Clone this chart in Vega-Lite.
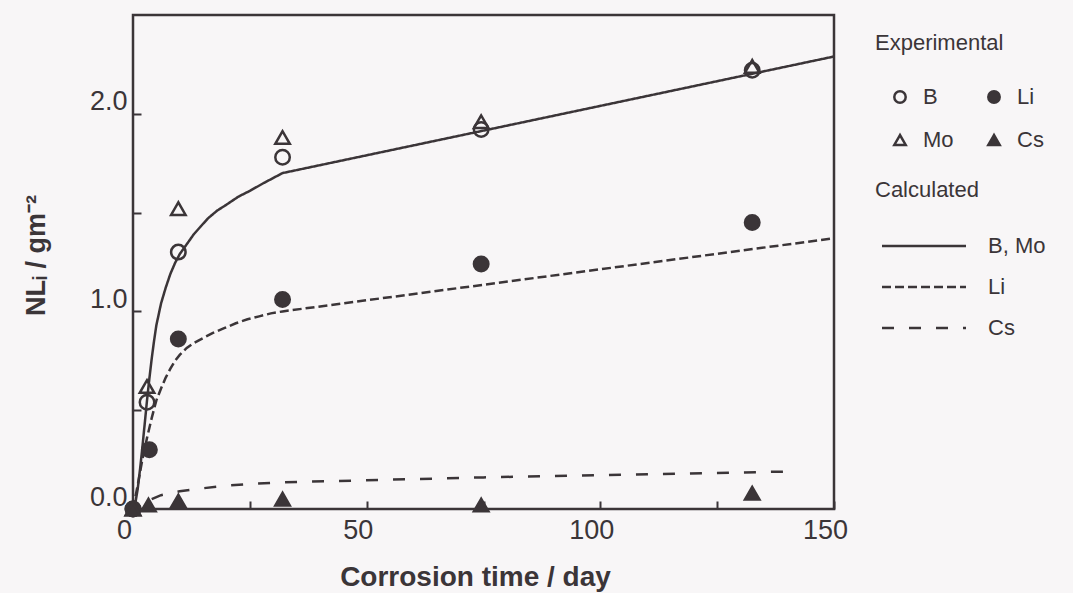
{
  "$schema": "https://vega.github.io/schema/vega-lite/v6.json",
  "background": "#f8f6f7",
  "padding": {"left": 20, "top": 13, "right": 0, "bottom": 0},
  "bounds": "flush",
  "spacing": 14,
  "config": {
    "view": {"stroke": "#3b3538", "strokeWidth": 2.5},
    "font": "Liberation Sans",
    "axis": {
      "domain": false,
      "grid": false,
      "tickColor": "#3b3538",
      "tickWidth": 2,
      "labelColor": "#3b3538",
      "titleColor": "#3b3538",
      "labelFont": "Liberation Sans",
      "titleFont": "Liberation Sans"
    },
    "legend": {
      "titleFontSize": 22,
      "titleFontWeight": "normal",
      "titleColor": "#3b3538",
      "labelFontSize": 22,
      "labelColor": "#3b3538",
      "labelBaseline": "middle",
      "padding": 0,
      "titleLimit": 300,
      "labelLimit": 200
    }
  },
  "datasets": {
    "exp": [
      {"t": 0, "v": 0, "el": "B"},
      {"t": 3, "v": 0.54, "el": "B"},
      {"t": 9.7, "v": 1.3, "el": "B"},
      {"t": 32, "v": 1.78, "el": "B"},
      {"t": 74.5, "v": 1.92, "el": "B"},
      {"t": 132.5, "v": 2.22, "el": "B"},
      {"t": 0, "v": 0, "el": "Mo"},
      {"t": 3, "v": 0.62, "el": "Mo"},
      {"t": 9.7, "v": 1.52, "el": "Mo"},
      {"t": 32, "v": 1.88, "el": "Mo"},
      {"t": 74.5, "v": 1.96, "el": "Mo"},
      {"t": 132.5, "v": 2.24, "el": "Mo"},
      {"t": 0, "v": 0, "el": "Li"},
      {"t": 3.5, "v": 0.3, "el": "Li"},
      {"t": 9.7, "v": 0.86, "el": "Li"},
      {"t": 32, "v": 1.06, "el": "Li"},
      {"t": 74.5, "v": 1.24, "el": "Li"},
      {"t": 132.5, "v": 1.45, "el": "Li"},
      {"t": 0, "v": 0, "el": "Cs"},
      {"t": 3.3, "v": 0.02, "el": "Cs"},
      {"t": 9.7, "v": 0.04, "el": "Cs"},
      {"t": 32, "v": 0.05, "el": "Cs"},
      {"t": 74.5, "v": 0.02, "el": "Cs"},
      {"t": 132.5, "v": 0.08, "el": "Cs"}
    ],
    "calc": [
      {"t": 0, "v": 0, "curve": "B, Mo"},
      {"t": 0.5, "v": 0.03, "curve": "B, Mo"},
      {"t": 1, "v": 0.1, "curve": "B, Mo"},
      {"t": 1.5, "v": 0.2, "curve": "B, Mo"},
      {"t": 2, "v": 0.31, "curve": "B, Mo"},
      {"t": 2.5, "v": 0.43, "curve": "B, Mo"},
      {"t": 3, "v": 0.55, "curve": "B, Mo"},
      {"t": 3.5, "v": 0.66, "curve": "B, Mo"},
      {"t": 4, "v": 0.76, "curve": "B, Mo"},
      {"t": 4.5, "v": 0.85, "curve": "B, Mo"},
      {"t": 5, "v": 0.93, "curve": "B, Mo"},
      {"t": 6, "v": 1.04, "curve": "B, Mo"},
      {"t": 7, "v": 1.12, "curve": "B, Mo"},
      {"t": 8, "v": 1.19, "curve": "B, Mo"},
      {"t": 9, "v": 1.245, "curve": "B, Mo"},
      {"t": 10, "v": 1.29, "curve": "B, Mo"},
      {"t": 11.5, "v": 1.34, "curve": "B, Mo"},
      {"t": 13, "v": 1.39, "curve": "B, Mo"},
      {"t": 14.5, "v": 1.43, "curve": "B, Mo"},
      {"t": 16, "v": 1.47, "curve": "B, Mo"},
      {"t": 18, "v": 1.51, "curve": "B, Mo"},
      {"t": 20, "v": 1.54, "curve": "B, Mo"},
      {"t": 22.5, "v": 1.58, "curve": "B, Mo"},
      {"t": 25, "v": 1.61, "curve": "B, Mo"},
      {"t": 28, "v": 1.65, "curve": "B, Mo"},
      {"t": 32, "v": 1.7, "curve": "B, Mo"},
      {"t": 150, "v": 2.29, "curve": "B, Mo"},
      {"t": 0, "v": 0, "curve": "Li"},
      {"t": 1, "v": 0.12, "curve": "Li"},
      {"t": 2, "v": 0.25, "curve": "Li"},
      {"t": 3, "v": 0.36, "curve": "Li"},
      {"t": 4, "v": 0.46, "curve": "Li"},
      {"t": 5, "v": 0.55, "curve": "Li"},
      {"t": 6, "v": 0.61, "curve": "Li"},
      {"t": 7, "v": 0.665, "curve": "Li"},
      {"t": 8, "v": 0.71, "curve": "Li"},
      {"t": 9, "v": 0.75, "curve": "Li"},
      {"t": 10, "v": 0.78, "curve": "Li"},
      {"t": 11.5, "v": 0.815, "curve": "Li"},
      {"t": 13, "v": 0.84, "curve": "Li"},
      {"t": 15, "v": 0.865, "curve": "Li"},
      {"t": 17, "v": 0.89, "curve": "Li"},
      {"t": 19.5, "v": 0.915, "curve": "Li"},
      {"t": 22, "v": 0.94, "curve": "Li"},
      {"t": 24.5, "v": 0.96, "curve": "Li"},
      {"t": 27, "v": 0.975, "curve": "Li"},
      {"t": 29.5, "v": 0.99, "curve": "Li"},
      {"t": 32, "v": 1.0, "curve": "Li"},
      {"t": 150, "v": 1.37, "curve": "Li"},
      {"t": 4, "v": 0.05, "curve": "Cs"},
      {"t": 6, "v": 0.07, "curve": "Cs"},
      {"t": 8, "v": 0.08, "curve": "Cs"},
      {"t": 10, "v": 0.09, "curve": "Cs"},
      {"t": 15, "v": 0.105, "curve": "Cs"},
      {"t": 20, "v": 0.118, "curve": "Cs"},
      {"t": 26, "v": 0.128, "curve": "Cs"},
      {"t": 32, "v": 0.135, "curve": "Cs"},
      {"t": 75, "v": 0.16, "curve": "Cs"},
      {"t": 141, "v": 0.19, "curve": "Cs"}
    ]
  },
  "hconcat": [
    {
      "width": 701,
      "height": 494,
      "layer": [
        {
          "data": {"name": "calc"},
          "mark": {"type": "line", "strokeWidth": 2.5, "color": "#3b3538", "interpolate": "linear"},
          "encoding": {
            "x": {
              "field": "t", "type": "quantitative",
              "scale": {"domain": [0, 150], "nice": false},
              "axis": {
                "title": "Corrosion time / day",
                "values": [0, 25, 50, 75, 100, 125, 150],
                "labelExpr": "datum.value % 50 === 0 ? datum.label : ''",
                "tickSize": -8,
                "labelFontSize": 27,
                "labelPadding": 16,
                "labelOffset": -9,
                "labelFlush": false,
                "titleFontSize": 28,
                "titleFontWeight": "bold",
                "titleX": 342,
                "titleY": 68,
                "titleBaseline": "middle"
              }
            },
            "y": {
              "field": "v", "type": "quantitative",
              "scale": {"domain": [0, 2.5], "nice": false},
              "axis": {
                "title": "NLᵢ / gm⁻²",
                "values": [0, 0.5, 1, 1.5, 2],
                "labelExpr": "datum.value % 1 === 0 ? format(datum.value, '.1f') : ''",
                "tickSize": -8,
                "labelFontSize": 27,
                "labelPadding": 14,
                "labelOffset": -12,
                "labelFlush": false,
                "titleFontSize": 27,
                "titleFontWeight": "bold",
                "titleX": -97,
                "titleY": 240,
                "titleAngle": 270,
                "titleAlign": "center",
                "titleBaseline": "middle"
              }
            },
            "strokeDash": {
              "field": "curve", "type": "nominal",
              "scale": {"domain": ["B, Mo", "Li", "Cs"], "range": [[1, 0], [9, 4], [12, 15]]},
              "legend": {
                "title": "Calculated",
                "orient": "none",
                "legendX": 742,
                "legendY": 165,
                "symbolType": "M-4,0H4",
                "symbolSize": 441,
                "symbolOffset": 37,
                "labelOffset": 52,
                "rowPadding": 18,
                "titlePadding": 32,
                "symbolStrokeWidth": 2.5,
                "symbolStrokeColor": "#3b3538"
              }
            }
          }
        },
        {
          "data": {"name": "exp"},
          "mark": {"type": "point", "strokeWidth": 2.5, "opacity": 1, "size": 210},
          "encoding": {
            "x": {"field": "t", "type": "quantitative"},
            "y": {"field": "v", "type": "quantitative"},
            "shape": {
              "field": "el", "type": "nominal",
              "scale": {"domain": ["B", "Mo", "Li", "Cs"], "range": ["circle", "triangle-up", "circle", "triangle-up"]},
              "legend": {
                "title": "Experimental",
                "orient": "none",
                "legendX": 742,
                "legendY": 18,
                "columns": 2,
                "columnPadding": 15,
                "rowPadding": 21,
                "titlePadding": 31,
                "symbolOffset": 14,
                "labelOffset": 12,
                "symbolSize": 130,
                "symbolStrokeWidth": 2.5
              }
            },
            "fill": {
              "field": "el", "type": "nominal",
              "scale": {"domain": ["B", "Mo", "Li", "Cs"], "range": ["transparent", "transparent", "#3b3538", "#3b3538"]}
            },
            "stroke": {
              "field": "el", "type": "nominal",
              "scale": {"domain": ["B", "Mo", "Li", "Cs"], "range": ["#3b3538", "#3b3538", "#3b3538", "#3b3538"]}
            }
          }
        }
      ]
    },
    {
      "width": 235,
      "height": 363,
      "data": {"values": [{"k": 1}]},
      "mark": {"type": "point", "opacity": 0},
      "encoding": {}
    }
  ]
}
